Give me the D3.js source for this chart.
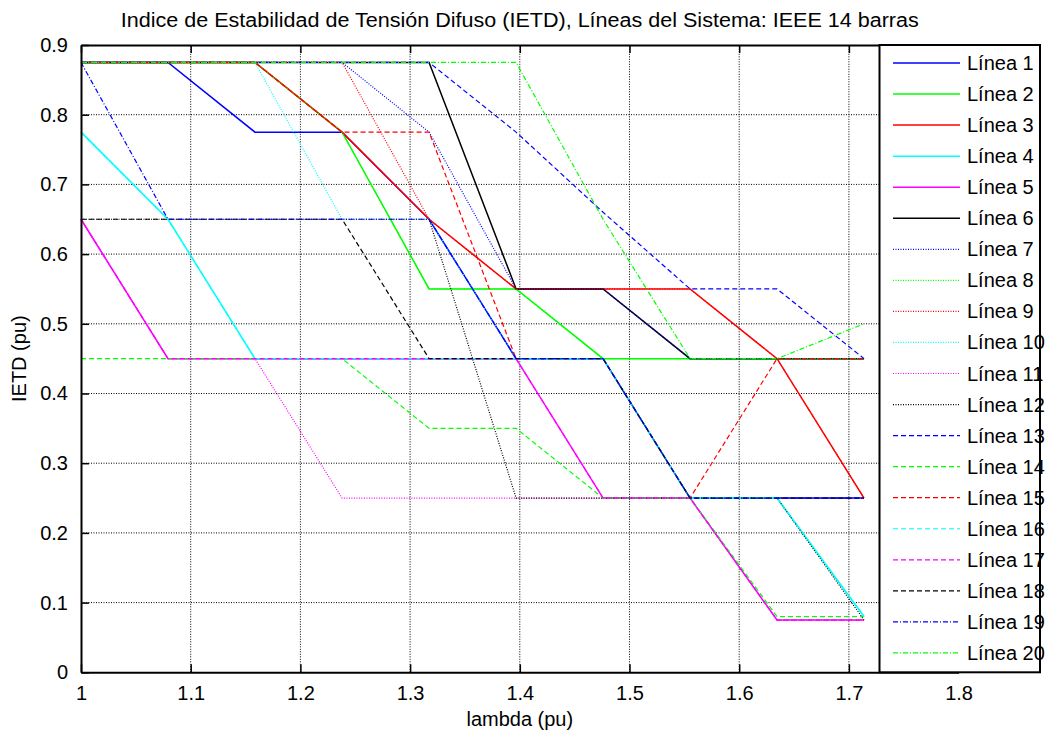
<!DOCTYPE html>
<html lang="en">
<head>
<meta charset="utf-8">
<title>IETD - IEEE 14 barras</title>
<script src="https://d3js.org/d3.v7.min.js"></script>
<style>
  body { margin: 0; background: #fff; }
  text { font-family: Arial, "Liberation Sans", sans-serif; }
</style>
</head>
<body>
<script>
// lambda (pu) values
var lambda = [1, 1.0793, 1.1586, 1.2380, 1.3173, 1.3966, 1.4759, 1.5552, 1.6345, 1.7138];

// IETD per line
var linea1  = [0.875, 0.875, 0.775, 0.775, 0.65, 0.45, 0.45, 0.25, 0.25, 0.25];
var linea2  = [0.875, 0.875, 0.875, 0.775, 0.55, 0.55, 0.45, 0.45, 0.45, 0.45];
var linea3  = [0.875, 0.875, 0.875, 0.775, 0.65, 0.55, 0.55, 0.55, 0.45, 0.25];
var linea4  = [0.775, 0.65, 0.45, 0.45, 0.45, 0.45, 0.45, 0.25, 0.25, 0.08];
var linea5  = [0.65, 0.45, 0.45, 0.45, 0.45, 0.45, 0.25, 0.25, 0.075, 0.075];
var linea6  = [0.875, 0.875, 0.875, 0.875, 0.875, 0.55, 0.55, 0.45, 0.45, 0.45];
var linea7  = [0.875, 0.875, 0.875, 0.875, 0.775, 0.55, 0.55, 0.45, 0.45, 0.45];
var linea8  = [0.875, 0.875, 0.875, 0.775, 0.55, 0.55, 0.45, 0.45, 0.45, 0.45];
var linea9  = [0.875, 0.875, 0.875, 0.875, 0.65, 0.55, 0.55, 0.55, 0.45, 0.25];
var linea10 = [0.875, 0.875, 0.875, 0.65, 0.65, 0.45, 0.45, 0.25, 0.25, 0.08];
var linea11 = [0.65, 0.45, 0.45, 0.25, 0.25, 0.25, 0.25, 0.25, 0.075, 0.075];
var linea12 = [0.65, 0.65, 0.65, 0.65, 0.65, 0.25, 0.25, 0.25, 0.25, 0.075];
var linea13 = [0.875, 0.875, 0.875, 0.875, 0.875, 0.775, 0.66, 0.55, 0.55, 0.45];
var linea14 = [0.45, 0.45, 0.45, 0.45, 0.35, 0.35, 0.25, 0.25, 0.08, 0.08];
var linea15 = [0.875, 0.875, 0.875, 0.775, 0.775, 0.45, 0.45, 0.25, 0.45, 0.45];
var linea16 = [0.775, 0.65, 0.45, 0.45, 0.45, 0.45, 0.45, 0.25, 0.25, 0.08];
var linea17 = [0.65, 0.45, 0.45, 0.45, 0.45, 0.45, 0.25, 0.25, 0.075, 0.075];
var linea18 = [0.65, 0.65, 0.65, 0.65, 0.45, 0.45, 0.45, 0.25, 0.25, 0.25];
var linea19 = [0.875, 0.65, 0.65, 0.65, 0.65, 0.45, 0.45, 0.25, 0.25, 0.25];
var linea20 = [0.875, 0.875, 0.875, 0.875, 0.875, 0.875, 0.65, 0.45, 0.45, 0.5];

var lineas = [linea1, linea2, linea3, linea4, linea5, linea6, linea7, linea8, linea9, linea10,
              linea11, linea12, linea13, linea14, linea15, linea16, linea17, linea18, linea19, linea20];
var nombres = lineas.map(function(d, i) { return "Línea " + (i + 1); });

var xTicks = [1, 1.1, 1.2, 1.3, 1.4, 1.5, 1.6, 1.7, 1.8];
var yTicks = [0, 0.1, 0.2, 0.3, 0.4, 0.5, 0.6, 0.7, 0.8, 0.9];

// MATLAB colour / style cycle
var colores = ["#0000ff", "#00ff00", "#ff0000", "#00ffff", "#ff00ff", "#000000"];
var estilos = [null, "1,1.5", "5,3", "5,2,1,2"];

var w = 1052, h = 733;
var margin = {left: 81, top: 45, right: 1052 - 958.6, bottom: 733 - 672.3};

var svg = d3.select("body").append("svg")
    .attr("width", w)
    .attr("height", h);

var x = d3.scaleLinear().domain([1, 1.8]).range([margin.left, w - margin.right]);
var y = d3.scaleLinear().domain([0, 0.9]).range([h - margin.bottom, margin.top]);

//grid
var grid = svg.append("g");
grid.selectAll(".gx").data(xTicks.slice(1, -1)).enter().append("line")
    .attr("x1", function(d) { return x(d); }).attr("x2", function(d) { return x(d); })
    .attr("y1", y(0)).attr("y2", y(0.9))
    .attr("stroke", "#000").attr("stroke-width", 1).attr("stroke-dasharray", "1,1.5");
grid.selectAll(".gy").data(yTicks.slice(1, -1)).enter().append("line")
    .attr("x1", x(1)).attr("x2", x(1.8))
    .attr("y1", function(d) { return y(d); }).attr("y2", function(d) { return y(d); })
    .attr("stroke", "#000").attr("stroke-width", 1).attr("stroke-dasharray", "1,1.5");

//lines
var linea = d3.line()
    .x(function(d, i) { return x(lambda[i]); })
    .y(function(d) { return y(d); });

svg.selectAll(".serie").data(lineas).enter().append("path")
    .attr("class", "serie")
    .attr("d", linea)
    .attr("fill", "none")
    .attr("stroke", function(d, i) { return colores[i % 6]; })
    .attr("stroke-width", function(d, i) { return i < 6 ? 1.5 : 1.2; })
    .attr("stroke-dasharray", function(d, i) { return estilos[Math.floor(i / 6)]; });

//axes (MATLAB box, ticks inside)
var xAxis = d3.axisBottom(x).tickValues(xTicks).tickSizeInner(-8).tickSizeOuter(0).tickPadding(14)
    .tickFormat(d3.format("~g"));
var yAxis = d3.axisLeft(y).tickValues(yTicks).tickSizeInner(-8).tickSizeOuter(0).tickPadding(13)
    .tickFormat(d3.format("~g"));
var xTop = d3.axisTop(x).tickValues(xTicks).tickSizeInner(-8).tickSizeOuter(0).tickFormat("");

var gx = svg.append("g").attr("transform", "translate(0," + y(0) + ")").call(xAxis);
var gy = svg.append("g").attr("transform", "translate(" + x(1) + ",0)").call(yAxis);
var gt = svg.append("g").attr("transform", "translate(0," + y(0.9) + ")").call(xTop);
[gx, gy, gt].forEach(function(g) {
  g.selectAll("path").attr("stroke", "#000").attr("stroke-width", 2);
  g.selectAll("line").attr("stroke", "#000").attr("stroke-width", 1.5);
  g.selectAll("text").attr("font-size", 20).attr("fill", "#000")
    .style("font-family", "Arial, 'Liberation Sans', sans-serif");
});
svg.append("line").attr("x1", x(1.8)).attr("x2", x(1.8)).attr("y1", y(0)).attr("y2", y(0.9))
    .attr("stroke", "#000").attr("stroke-width", 2);

//labels
svg.append("text").attr("x", (x(1) + x(1.8)) / 2).attr("y", 27)
    .attr("text-anchor", "middle").attr("font-size", 20)
    .attr("textLength", 798).attr("lengthAdjust", "spacingAndGlyphs")
    .text("Indice de Estabilidad de Tensión Difuso (IETD), Líneas del Sistema: IEEE 14 barras");
svg.append("text").attr("x", (x(1) + x(1.8)) / 2).attr("y", 726)
    .attr("text-anchor", "middle").attr("font-size", 20)
    .text("lambda (pu)");
svg.append("text").attr("transform", "translate(26," + (y(0.45)) + ") rotate(-90)")
    .attr("text-anchor", "middle").attr("font-size", 20)
    .text("IETD (pu)");

//legend
var leg = svg.append("g");
leg.append("rect").attr("x", 879.5).attr("y", y(0.9)).attr("width", 1040 - 879.5).attr("height", y(0) - y(0.9))
    .attr("fill", "#fff").attr("stroke", "#000").attr("stroke-width", 2);
var item = leg.selectAll(".item").data(nombres).enter().append("g")
    .attr("transform", function(d, i) { return "translate(0," + (63 + i * 31.05) + ")"; });
item.append("line").attr("x1", 893).attr("x2", 960).attr("y1", 0).attr("y2", 0)
    .attr("stroke", function(d, i) { return colores[i % 6]; })
    .attr("stroke-width", function(d, i) { return i < 6 ? 1.5 : 1.2; })
    .attr("stroke-dasharray", function(d, i) { return estilos[Math.floor(i / 6)]; });
item.append("text").attr("x", 967).attr("y", 7).attr("font-size", 20)
    .text(function(d) { return d; });
</script>
</body>
</html>
